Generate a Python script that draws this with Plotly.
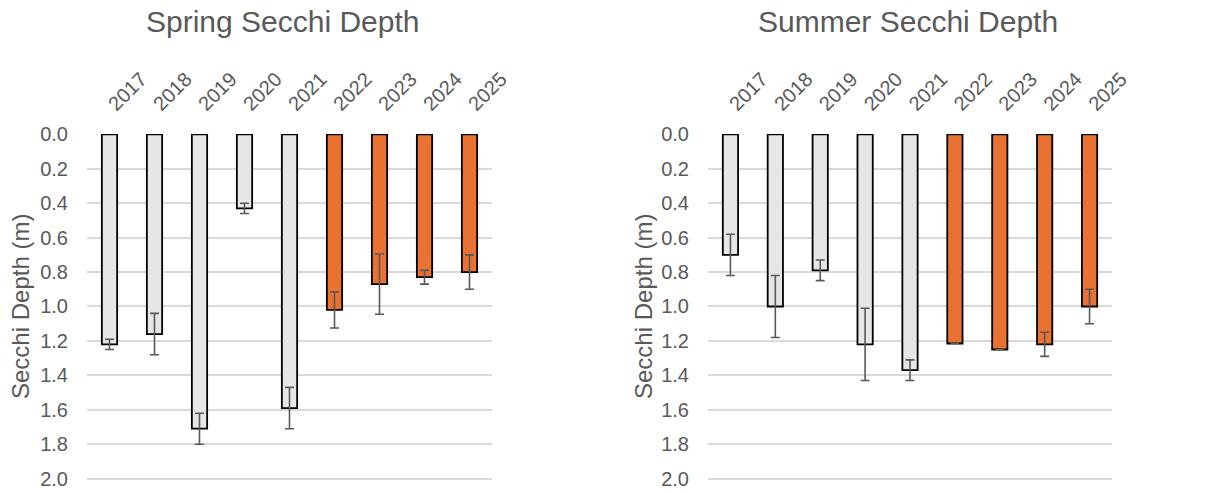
import plotly.graph_objects as go

years = ["2017", "2018", "2019", "2020", "2021", "2022", "2023", "2024", "2025"]
spring_depth = [1.22, 1.16, 1.71, 0.43, 1.59, 1.02, 0.87, 0.83, 0.80]
spring_err = [0.03, 0.12, 0.09, 0.03, 0.12, 0.105, 0.175, 0.04, 0.10]
summer_depth = [0.70, 1.00, 0.79, 1.22, 1.37, 1.215, 1.25, 1.22, 1.00]
summer_err = [0.12, 0.18, 0.06, 0.21, 0.06, 0.0, 0.0, 0.07, 0.10]
bar_colors = ["#E7E6E6"] * 5 + ["#E97132"] * 4
y_ticks = [0.0, 0.2, 0.4, 0.6, 0.8, 1.0, 1.2, 1.4, 1.6, 1.8, 2.0]

FONT = "Liberation Sans"
TXT = "#595959"
W, H = 1214, 493

fig = go.Figure()
for i, (vals, errs) in enumerate([(spring_depth, spring_err), (summer_depth, summer_err)]):
    suffix = "" if i == 0 else "2"
    fig.add_trace(go.Bar(
        x=years, y=vals,
        marker=dict(color=bar_colors, line=dict(color="#000000", width=1.8)),
        width=0.34,
        error_y=dict(type="data", array=errs, visible=True, color="#595959",
                     thickness=1.6, width=4.5),
        xaxis="x" + suffix, yaxis="y" + suffix,
        showlegend=False,
    ))

xcommon = dict(side="top", tickangle=-45, showgrid=False, showline=False,
               ticks="", tickfont=dict(family=FONT, size=20, color=TXT),
               type="category", automargin=False, ticklabelstandoff=14)
ycommon = dict(range=[2.008, -0.002], tickvals=y_ticks, tickformat=".1f",
               showgrid=True, gridcolor="#D9D9D9", gridwidth=1.5,
               zeroline=False, showline=False, ticks="", automargin=False,
               ticklabelstandoff=18,
               tickfont=dict(family=FONT, size=20, color=TXT))

fig.update_layout(
    width=W, height=H,
    margin=dict(l=0, r=0, t=0, b=0),
    paper_bgcolor="white", plot_bgcolor="white",
    xaxis=dict(domain=[87/W, 492/W], anchor="y", **xcommon),
    yaxis=dict(domain=[1-480/H, 1-134/H], anchor="x", **ycommon),
    xaxis2=dict(domain=[708/W, 1112/W], anchor="y2", **xcommon),
    yaxis2=dict(domain=[1-480/H, 1-134/H], anchor="x2", **ycommon),
    annotations=[
        dict(text="Spring Secchi Depth", x=283/W, y=1-22/H, xref="paper", yref="paper",
             showarrow=False, xanchor="center", yanchor="middle",
             font=dict(family=FONT, size=30, color=TXT)),
        dict(text="Summer Secchi Depth", x=908/W, y=1-22/H, xref="paper", yref="paper",
             showarrow=False, xanchor="center", yanchor="middle",
             font=dict(family=FONT, size=30, color=TXT)),
        dict(text="Secchi Depth (m)", x=20/W, y=1-307/H, xref="paper", yref="paper",
             showarrow=False, xanchor="center", yanchor="middle", textangle=-90,
             font=dict(family=FONT, size=24, color=TXT)),
        dict(text="Secchi Depth (m)", x=643/W, y=1-307/H, xref="paper", yref="paper",
             showarrow=False, xanchor="center", yanchor="middle", textangle=-90,
             font=dict(family=FONT, size=24, color=TXT)),
    ],
)

fig.write_html("out.html")
